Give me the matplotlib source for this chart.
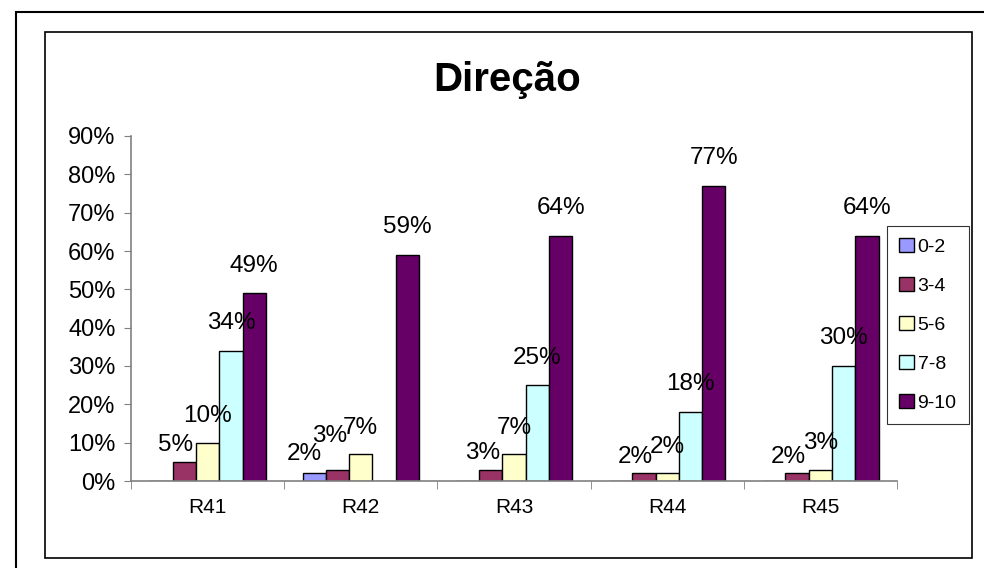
import matplotlib.pyplot as plt
import numpy as np
from matplotlib.patches import Rectangle

plt.rcParams['font.family'] = ['Liberation Sans', 'DejaVu Sans']

# data
categories = ['R41', 'R42', 'R43', 'R44', 'R45']
series_names = ['0-2', '3-4', '5-6', '7-8', '9-10']
s_0_2 = [0.00, 0.02, 0.00, 0.00, 0.00]
s_3_4 = [0.05, 0.03, 0.03, 0.02, 0.02]
s_5_6 = [0.10, 0.07, 0.07, 0.02, 0.03]
s_7_8 = [0.34, 0.00, 0.25, 0.18, 0.30]
s_9_10 = [0.49, 0.59, 0.64, 0.77, 0.64]
series = [s_0_2, s_3_4, s_5_6, s_7_8, s_9_10]
colors = ['#9999FF', '#993366', '#FFFFCC', '#CCFFFF', '#660066']
# label nudges per series (points) so small neighbouring labels don't pile up
lifts = [6, 4, 11, 12, 12]
shifts = [-7, -6, 0, 0, 0]

fig = plt.figure(figsize=(9.84, 5.68), dpi=100)
ax = fig.add_axes([131 / 984, 1 - 481 / 568, (897 - 131) / 984, (481 - 136) / 568])

x = np.arange(len(categories))
w = 0.152
labels = {k: [] for k in range(len(categories))}
for i, (vals, name, c) in enumerate(zip(series, series_names, colors)):
    pos = x + (i - 2) * w
    bars = ax.bar(pos, vals, w, color=c, edgecolor='black', linewidth=1, label=name)
    for k, (b, v) in enumerate(zip(bars, vals)):
        if v > 0:
            t = ax.annotate(f'{v:.0%}', (b.get_x() + b.get_width() / 2, v),
                            xytext=(shifts[i], lifts[i]), textcoords='offset points',
                            ha='center', va='bottom', fontsize=17.5)
            labels[k].append(t)

ax.set_xlim(-0.5, len(categories) - 0.5)
ax.set_ylim(0, 0.9)
yt = np.arange(0, 0.91, 0.1)
ax.set_yticks(yt)
ax.set_yticklabels([f'{int(round(t * 100))}%' for t in yt], fontsize=17)
ax.set_xticks(x)
ax.set_xticklabels(categories, fontsize=15)
ax.set_xticks(np.arange(-0.5, len(categories)), minor=True)
ax.tick_params(axis='x', which='major', length=0, pad=12)
ax.tick_params(axis='x', which='minor', length=6, color='#808080', direction='out')
ax.tick_params(axis='y', length=5, color='#808080', direction='out', pad=6)
for s in ['top', 'right']:
    ax.spines[s].set_visible(False)
for s in ['left', 'bottom']:
    ax.spines[s].set_color('#808080')
    ax.spines[s].set_linewidth(1.2)

# push a label up if it sits on top of the previous one in its group
fig.canvas.draw()
r = fig.canvas.get_renderer()
for k, group in labels.items():
    placed = []
    for t in group:
        bb = t.get_window_extent(r)
        for pb in placed:
            dx = min(bb.x1, pb.x1) - max(bb.x0, pb.x0)
            dy = pb.y1 - bb.y0
            if dx > 6 and dy > 0 and bb.y1 > pb.y0:
                ox, oy = t.xyann
                t.xyann = (ox, oy + (dy - 4) * 72 / fig.dpi)
                bb = t.get_window_extent(r)
        placed.append(bb)

fig.text(507 / 984, 1 - 80 / 568, 'Direção', ha='center', va='center',
         fontsize=29, fontweight='bold')

leg = fig.legend(loc='upper left', bbox_to_anchor=(887 / 984, 1 - 226 / 568),
                 fontsize=14, frameon=True, fancybox=False, edgecolor='black',
                 handlelength=0.75, handleheight=0.75, handletextpad=0.2,
                 labelspacing=1.08, borderpad=0.62, borderaxespad=0)
leg.get_frame().set_linewidth(0.8)

# chart frames
fig.patches.append(Rectangle((16 / 984, -0.1), 1.1, 1.1 - 12 / 568, transform=fig.transFigure,
                             fill=False, edgecolor='black', linewidth=1.5))
fig.patches.append(Rectangle((45 / 984, 1 - 558 / 568), (972 - 45) / 984, (558 - 32) / 568,
                             transform=fig.transFigure, fill=False, edgecolor='black', linewidth=1.2))

fig.savefig('out.png', dpi=100)
